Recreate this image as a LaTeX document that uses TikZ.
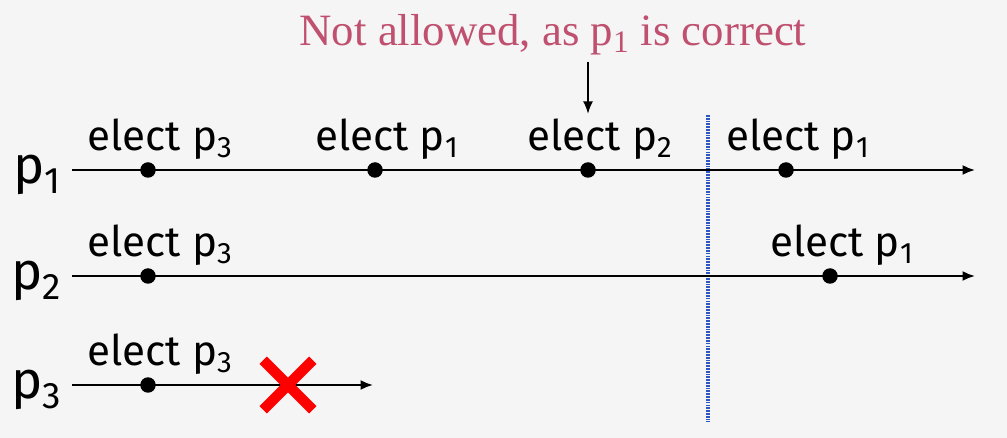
\documentclass[tikz,border=0pt]{standalone}
\usepackage{fontspec}
\setmainfont{Fira Sans}
\newfontfamily\notefont{Liberation Serif}
\usetikzlibrary{arrows.meta, positioning, shapes.misc, calc}
\definecolor{NoteRose}{HTML}{C0506F}
\definecolor{CutBlue}{HTML}{2F55C0}
\definecolor{SlideGray}{HTML}{F5F5F5}
\tikzset{
    % Base line width for the process lines
    base_width/.style={line width=1.1pt},
    % Time line of one process
    timeline/.style={
        -{Latex[length=2.5mm, width=2mm]},
        draw=black,
        base_width
    },
    % Election event on a time line
    event_dot/.style={
        circle,
        fill=black,
        inner sep=0pt,
        minimum size=3.1mm
    },
    elect_label/.style={
        inner sep=0pt,
        font=\fontsize{24}{28}\selectfont
    },
    proc_label/.style={
        inner sep=0pt,
        font=\fontsize{30}{34}\selectfont
    },
    note_text/.style={
        inner sep=0pt,
        text=NoteRose,
        font=\notefont\fontsize{25.5}{30}\selectfont
    },
    note_arrow/.style={
        -{Latex[length=2.5mm, width=2mm]},
        draw=black,
        line width=0.9pt
    },
    cut_line/.style={
        draw=CutBlue,
        line width=2pt,
        dash pattern=on 1pt off 0.6pt
    },
    crash_cross/.style={
        cross out,
        draw=red,
        line width=6pt,
        inner sep=0pt,
        minimum size=0.78cm
    }
}
\begin{document}
\begin{tikzpicture}[x=0.02cm, y=-0.02cm]

    % --- BACKGROUND ---
    \fill[SlideGray] (0,0) rectangle (1007,438);
    \useasboundingbox (0,0) rectangle (1007,438);

    % --- PROCESS LINES ---
    \coordinate (p1_start) at (72,170);
    \coordinate (p1_end) at (975,170);
    \coordinate (p2_start) at (72,276);
    \coordinate (p2_end) at (975,276);
    \coordinate (p3_start) at (72,385);
    \coordinate (p3_end) at (373,385);

    \node[proc_label, left=0.2cm of p1_start, yshift=-3pt] (p1_name) {p\textsubscript{1}};
    \node[proc_label, left=0.2cm of p2_start, yshift=-3pt] (p2_name) {p\textsubscript{2}};
    \node[proc_label, left=0.2cm of p3_start, yshift=-3pt] (p3_name) {p\textsubscript{3}};

    % --- CUT ---
    \coordinate (cut_top) at (708,115);
    \coordinate (cut_bot) at (708,422);
    \draw[cut_line] (cut_top) -- (cut_bot);

    \draw[timeline] (p1_start) -- (p1_end);
    \draw[timeline] (p2_start) -- (p2_end);
    \draw[timeline] (p3_start) -- (p3_end);

    % --- EVENTS OF p1 ---
    \node[event_dot] (p1_e1) at (148,170) {};
    \node[event_dot] (p1_e2) at (375,170) {};
    \node[event_dot] (p1_e3) at (588,170) {};
    \node[event_dot] (p1_e4) at (786,170) {};
    \node[elect_label, above=1pt of p1_e1, xshift=0.24cm] (p1_l1) {elect p\textsubscript{3}};
    \node[elect_label, above=1pt of p1_e2, xshift=0.24cm] (p1_l2) {elect p\textsubscript{1}};
    \node[elect_label, above=1pt of p1_e3, xshift=0.24cm] (p1_l3) {elect p\textsubscript{2}};
    \node[elect_label, above=1pt of p1_e4, xshift=0.24cm] (p1_l4) {elect p\textsubscript{1}};

    % --- EVENTS OF p2 ---
    \node[event_dot] (p2_e1) at (148,276) {};
    \node[event_dot] (p2_e2) at (830,276) {};
    \node[elect_label, above=1pt of p2_e1, xshift=0.24cm] (p2_l1) {elect p\textsubscript{3}};
    \node[elect_label, above=1pt of p2_e2, xshift=0.24cm] (p2_l2) {elect p\textsubscript{1}};

    % --- EVENTS OF p3 ---
    \node[event_dot] (p3_e1) at (148,385) {};
    \node[elect_label, above=1pt of p3_e1, xshift=0.24cm] (p3_l1) {elect p\textsubscript{3}};
    \node[crash_cross] (p3_crash) at (288,385) {};

    % --- NOTE ---
    \node[note_text] (note) at (553,35) {Not allowed, as p\textsubscript{1} is correct};
    \draw[note_arrow] (note.south -| p1_e3) ++(0,6) -- ($(p1_l3.north -| p1_e3)+(0,-5)$);

\end{tikzpicture}
\end{document}
